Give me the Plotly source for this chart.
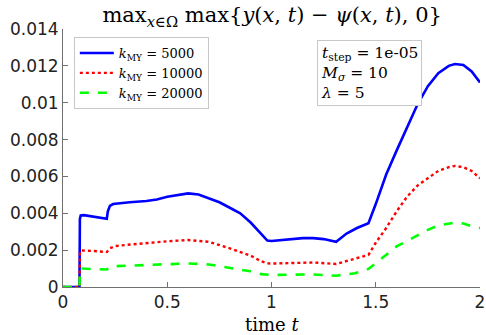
import plotly.graph_objects as go

# time grids and values
t_5000 = [0, 0.079, 0.081, 0.085, 0.1, 0.15, 0.2, 0.21, 0.215, 0.225, 0.24, 0.27, 0.32,
          0.4, 0.45, 0.5, 0.55, 0.6, 0.65, 0.7, 0.75, 0.8, 0.85, 0.9, 0.95, 0.98,
          1.0, 1.05, 1.1, 1.15, 1.2, 1.25, 1.31, 1.36, 1.41, 1.465, 1.5, 1.55,
          1.6, 1.65, 1.7, 1.75, 1.8, 1.85, 1.88, 1.92, 1.96, 2.0]
y_5000 = [0, 0, 0.0037, 0.00388, 0.0039, 0.00382, 0.00372, 0.0037, 0.0041, 0.0044,
          0.0045, 0.00455, 0.0046, 0.00467, 0.00475, 0.0049, 0.005, 0.00508, 0.00502,
          0.0048, 0.0046, 0.0043, 0.004, 0.0035, 0.0029, 0.00252, 0.0025, 0.00255,
          0.0026, 0.00265, 0.00265, 0.0026, 0.00245, 0.0029, 0.0032, 0.00346, 0.0045,
          0.0061, 0.0074, 0.0087, 0.0099, 0.0109, 0.0116, 0.012, 0.0121, 0.01205,
          0.0117, 0.0111]

t_10000 = [0, 0.079, 0.081, 0.09, 0.15, 0.2, 0.21, 0.225, 0.25, 0.3, 0.4, 0.5, 0.6,
           0.65, 0.7, 0.8, 0.9, 0.95, 0.98, 1.0, 1.1, 1.2, 1.31, 1.4, 1.465, 1.5,
           1.55, 1.6, 1.65, 1.7, 1.75, 1.8, 1.85, 1.88, 1.92, 1.96, 2.0]
y_10000 = [0, 0, 0.0019, 0.00198, 0.00195, 0.0019, 0.0019, 0.0021, 0.00222, 0.00228,
           0.0024, 0.00248, 0.00255, 0.00252, 0.00245, 0.0021, 0.0017, 0.0014, 0.00128,
           0.00127, 0.0013, 0.00133, 0.00125, 0.00155, 0.00174, 0.0024, 0.0032, 0.0041,
           0.0049, 0.0055, 0.0059, 0.0063, 0.0065, 0.00657, 0.0065, 0.0063, 0.0059]

t_20000 = [0, 0.079, 0.081, 0.09, 0.15, 0.2, 0.21, 0.23, 0.3, 0.4, 0.5, 0.6, 0.7, 0.8,
           0.9, 0.95, 1.0, 1.1, 1.2, 1.31, 1.4, 1.465, 1.5, 1.55, 1.6, 1.65, 1.7,
           1.75, 1.8, 1.85, 1.88, 1.92, 1.96, 2.0]
y_20000 = [0, 0, 0.00095, 0.001, 0.00097, 0.00092, 0.00095, 0.00112, 0.00115, 0.0012,
           0.00124, 0.00128, 0.00122, 0.00105, 0.00085, 0.0007, 0.00065, 0.00067,
           0.00068, 0.00061, 0.00075, 0.00098, 0.0013, 0.00175, 0.0022, 0.0025, 0.0028,
           0.0031, 0.00334, 0.00346, 0.00349, 0.00345, 0.0033, 0.0032]

y_ticks = [0, 0.002, 0.004, 0.006, 0.008, 0.01, 0.012, 0.014]
y_tick_labels = ['0', '0.002', '0.004', '0.006', '0.008', '0.01', '0.012', '0.014']
x_ticks = [0, 0.5, 1, 1.5, 2]
x_tick_labels = ['0', '0.5', '1', '1.5', '2']

SERIF = 'DejaVu Serif'
SANS = 'DejaVu Sans'

fig = go.Figure()

fig.add_trace(go.Scatter(x=t_5000, y=y_5000, mode='lines',
                         line=dict(color='#0000ff', width=2.6),
                         name='<i>k</i><sub>MY</sub> = 5000'))
fig.add_trace(go.Scatter(x=t_10000, y=y_10000, mode='lines',
                         line=dict(color='#ff0000', width=2.4, dash='dot'),
                         name='<i>k</i><sub>MY</sub> = 10000'))
fig.add_trace(go.Scatter(x=t_20000, y=y_20000, mode='lines',
                         line=dict(color='#00ff00', width=2.6, dash='dash'),
                         name='<i>k</i><sub>MY</sub> = 20000'))

# parameter box
fig.add_annotation(
    xref='paper', yref='paper', x=0.61, y=0.957, xanchor='left', yanchor='top',
    text='<i>t</i><sub>step</sub> = 1e-05<br><i>M</i><sub><i>σ</i></sub> = 10<br><i>λ</i> = 5',
    align='left', showarrow=False,
    font=dict(family=SERIF, size=15.5, color='black'),
    bordercolor='#c8c8c8', borderwidth=1, borderpad=3, bgcolor='white'
)

# x axis label
fig.add_annotation(
    xref='paper', yref='paper', x=0.5, y=-0.147, xanchor='center', yanchor='middle',
    text='time <i>t</i>', showarrow=False,
    font=dict(family=SERIF, size=18, color='black')
)

fig.update_layout(
    width=486, height=335,
    margin=dict(l=63, r=6, t=29, b=48),
    plot_bgcolor='white', paper_bgcolor='white',
    title=dict(
        text='max<sub><i>x</i>∈Ω</sub> max{<i>y</i>(<i>x</i>, <i>t</i>) − <i>ψ</i>(<i>x</i>, <i>t</i>), 0}',
        x=0.56, xanchor='center', y=0.955, yanchor='middle',
        font=dict(family=SERIF, size=21, color='black')
    ),
    showlegend=True,
    legend=dict(
        x=0.026, y=0.969, xanchor='left', yanchor='top',
        bordercolor='#c8c8c8', borderwidth=1, bgcolor='white',
        font=dict(family=SERIF, size=13, color='black'),
        tracegroupgap=0, itemwidth=34
    ),
    xaxis=dict(
        range=[0, 2], tickvals=x_ticks, ticktext=x_tick_labels, automargin=False,
        showgrid=False, zeroline=False, showline=True, linecolor='#707070',
        ticks='inside', ticklen=5, tickcolor='#707070',
        tickfont=dict(family=SANS, size=17, color='#222')
    ),
    yaxis=dict(
        range=[0, 0.014], tickvals=y_ticks, ticktext=y_tick_labels, automargin=False,
        showgrid=False, zeroline=False, showline=True, linecolor='#707070',
        ticks='inside', ticklen=5, tickcolor='#707070',
        tickfont=dict(family=SANS, size=17, color='#222')
    ),
)

fig.write_html("out.html", config={'displayModeBar': False},
               post_script="document.body.style.margin='0';")
